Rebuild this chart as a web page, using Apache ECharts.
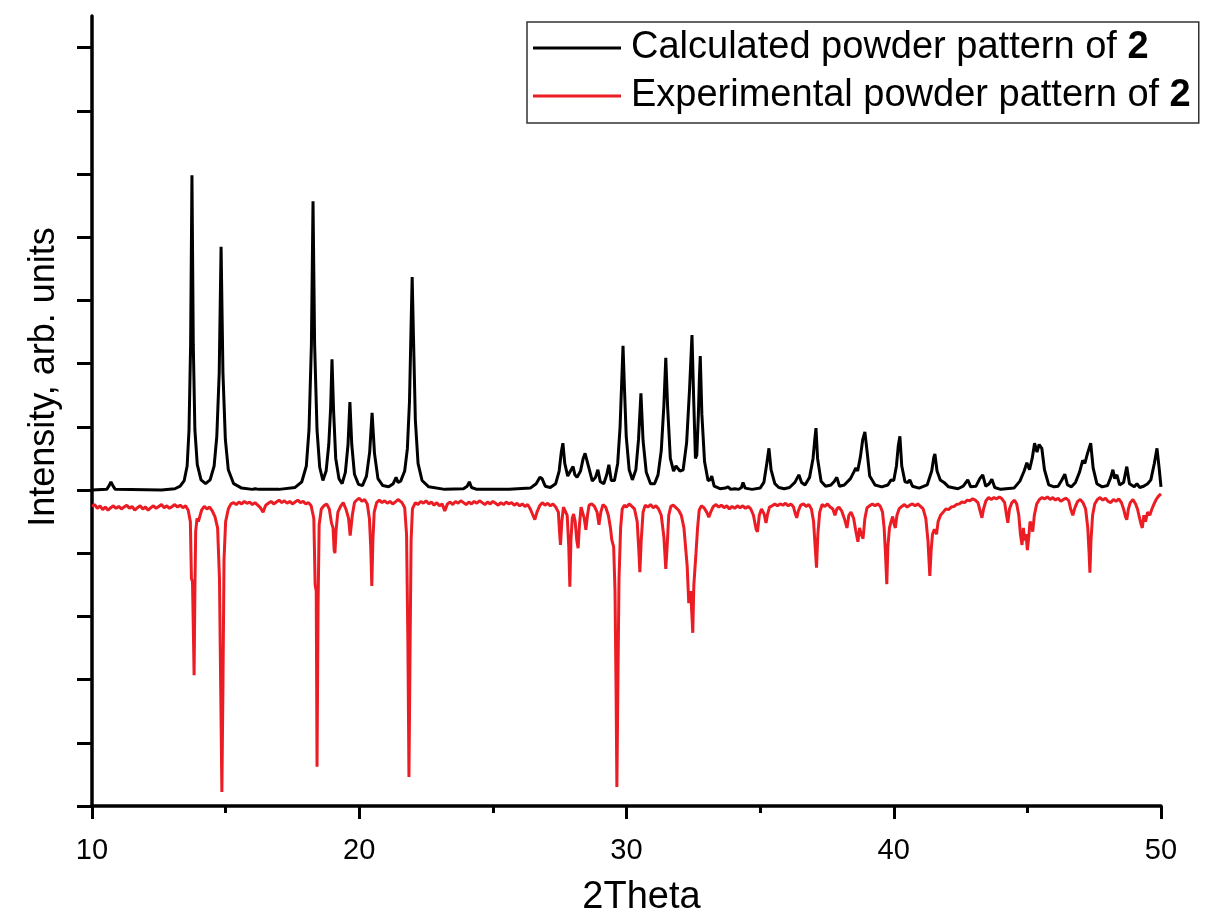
<!DOCTYPE html>
<html>
<head>
<meta charset="utf-8">
<script src="https://cdn.jsdelivr.net/npm/echarts@6/dist/echarts.min.js"></script>
<style>
html,body{margin:0;padding:0;background:#fff;}
#chart{width:1211px;height:914px;}
</style>
</head>
<body>
<div id="chart"></div>
<script>
const xTicks = [10, 20, 30, 40, 50];
const yTicks = [-5, -4, -3, -2, -1, 0, 1, 2, 3, 4, 5, 6, 7];
const seriesNames = ['Calculated powder pattern of 2', 'Experimental powder pattern of 2'];

const calculated = [
[10.0,0],[10.55,0.01],[10.63,0.06],[10.71,0.13],[10.79,0.06],[10.87,0.01],[12.6,0],[13.1,0.02],[13.3,0.06],[13.45,0.15],[13.56,0.38],[13.63,0.95],[13.69,2.3],[13.74,4.98],[13.79,2.3],[13.85,0.95],[13.94,0.4],[14.08,0.16],[14.25,0.1],[14.42,0.16],[14.57,0.38],[14.67,0.85],[14.76,1.85],[14.83,3.85],[14.9,1.85],[14.99,0.8],[15.1,0.32],[15.3,0.1],[15.6,0.03],[16.0,0.01],[16.1,0.02],[16.17,0.04],[16.25,0.01],[17.0,0.01],[17.6,0.04],[17.85,0.13],[18.02,0.38],[18.12,0.95],[18.21,2.3],[18.27,4.57],[18.33,2.3],[18.42,0.95],[18.52,0.36],[18.64,0.15],[18.76,0.3],[18.86,0.72],[18.93,1.3],[18.98,2.07],[19.04,1.25],[19.12,0.5],[19.24,0.18],[19.36,0.1],[19.48,0.28],[19.58,0.72],[19.65,1.39],[19.72,0.72],[19.82,0.25],[19.97,0.09],[20.12,0.07],[20.27,0.22],[20.39,0.6],[20.48,1.22],[20.57,0.58],[20.7,0.18],[20.88,0.07],[21.1,0.05],[21.27,0.1],[21.38,0.2],[21.45,0.12],[21.55,0.14],[21.7,0.3],[21.8,0.65],[21.88,1.4],[21.94,2.6],[21.98,3.37],[22.03,2.4],[22.1,1.1],[22.2,0.42],[22.35,0.15],[22.6,0.05],[23.2,0.01],[23.9,0.02],[24.04,0.06],[24.12,0.13],[24.2,0.04],[24.4,0.01],[25.6,0.01],[26.4,0.03],[26.62,0.1],[26.76,0.2],[26.84,0.18],[26.96,0.06],[27.15,0.04],[27.35,0.1],[27.48,0.3],[27.56,0.6],[27.62,0.74],[27.69,0.42],[27.8,0.22],[27.93,0.32],[28.0,0.37],[28.07,0.24],[28.15,0.2],[28.28,0.3],[28.38,0.5],[28.45,0.58],[28.52,0.6],[28.6,0.34],[28.72,0.14],[28.84,0.2],[28.93,0.32],[29.02,0.13],[29.15,0.1],[29.26,0.24],[29.34,0.4],[29.43,0.15],[29.55,0.15],[29.67,0.42],[29.76,1.0],[29.82,1.7],[29.87,2.28],[29.92,1.65],[29.99,0.85],[30.1,0.32],[30.22,0.16],[30.35,0.32],[30.45,0.8],[30.54,1.53],[30.62,0.78],[30.74,0.28],[30.9,0.1],[31.05,0.1],[31.18,0.24],[31.3,0.62],[31.4,1.35],[31.47,2.09],[31.54,1.3],[31.64,0.5],[31.76,0.3],[31.85,0.38],[31.92,0.41],[32.0,0.3],[32.12,0.32],[32.25,0.75],[32.36,1.6],[32.45,2.45],[32.52,1.35],[32.58,0.5],[32.63,0.55],[32.69,1.2],[32.73,1.8],[32.76,2.12],[32.82,1.2],[32.92,0.45],[33.05,0.15],[33.13,0.16],[33.19,0.22],[33.28,0.06],[33.5,0.02],[33.7,0.03],[33.8,0.05],[33.9,0.01],[34.05,0.02],[34.12,0.05],[34.2,0.01],[34.3,0.04],[34.36,0.12],[34.44,0.03],[34.7,0.01],[35.0,0.03],[35.14,0.12],[35.25,0.42],[35.33,0.66],[35.41,0.32],[35.55,0.1],[35.7,0.04],[35.9,0.02],[36.1,0.04],[36.3,0.12],[36.45,0.24],[36.55,0.12],[36.68,0.08],[36.85,0.2],[36.98,0.5],[37.05,0.82],[37.09,0.98],[37.15,0.5],[37.28,0.14],[37.45,0.06],[37.65,0.08],[37.78,0.14],[37.87,0.2],[37.97,0.06],[38.15,0.08],[38.38,0.18],[38.5,0.28],[38.58,0.35],[38.65,0.3],[38.75,0.52],[38.84,0.8],[38.92,0.92],[39.0,0.62],[39.1,0.22],[39.3,0.08],[39.55,0.05],[39.78,0.08],[39.9,0.16],[40.0,0.15],[40.1,0.38],[40.17,0.7],[40.23,0.85],[40.3,0.38],[40.42,0.13],[40.52,0.12],[40.6,0.16],[40.7,0.06],[40.95,0.03],[41.25,0.08],[41.42,0.3],[41.5,0.52],[41.54,0.57],[41.62,0.3],[41.74,0.16],[41.88,0.12],[42.05,0.05],[42.4,0.02],[42.6,0.06],[42.77,0.16],[42.88,0.05],[43.08,0.06],[43.22,0.18],[43.33,0.24],[43.44,0.06],[43.57,0.1],[43.67,0.17],[43.78,0.04],[44.0,0.01],[44.5,0.03],[44.72,0.14],[44.88,0.3],[44.98,0.43],[45.08,0.32],[45.18,0.5],[45.27,0.74],[45.36,0.6],[45.44,0.72],[45.54,0.66],[45.64,0.32],[45.8,0.08],[46.0,0.05],[46.15,0.06],[46.28,0.15],[46.4,0.25],[46.5,0.08],[46.65,0.05],[46.8,0.12],[46.95,0.28],[47.07,0.47],[47.15,0.42],[47.25,0.58],[47.37,0.74],[47.46,0.35],[47.6,0.1],[47.8,0.05],[48.0,0.07],[48.12,0.2],[48.2,0.32],[48.27,0.18],[48.35,0.24],[48.45,0.08],[48.6,0.12],[48.72,0.37],[48.82,0.1],[49.0,0.05],[49.1,0.1],[49.2,0.04],[49.35,0.06],[49.5,0.1],[49.62,0.16],[49.75,0.42],[49.85,0.66],[49.93,0.35],[50.0,0.05]
];

const experimental = [
[10.0,-0.26],[10.1,-0.23],[10.2,-0.29],[10.3,-0.25],[10.4,-0.31],[10.5,-0.27],[10.6,-0.32],[10.7,-0.28],[10.8,-0.25],[10.9,-0.29],[11.0,-0.26],[11.1,-0.3],[11.2,-0.27],[11.3,-0.24],[11.4,-0.29],[11.5,-0.26],[11.6,-0.32],[11.7,-0.28],[11.8,-0.25],[11.9,-0.3],[12.0,-0.27],[12.1,-0.32],[12.2,-0.28],[12.3,-0.25],[12.4,-0.29],[12.5,-0.26],[12.6,-0.23],[12.7,-0.28],[12.8,-0.25],[12.9,-0.29],[13.0,-0.26],[13.1,-0.23],[13.2,-0.27],[13.3,-0.24],[13.4,-0.28],[13.5,-0.25],[13.6,-0.32],[13.68,-0.5],[13.72,-1.4],[13.76,-1.45],[13.8,-2.4],[13.82,-2.93],[13.85,-1.6],[13.88,-0.65],[13.93,-0.45],[13.98,-0.5],[14.05,-0.48],[14.1,-0.32],[14.2,-0.26],[14.3,-0.3],[14.4,-0.27],[14.5,-0.33],[14.6,-0.42],[14.7,-0.6],[14.77,-1.4],[14.82,-3.3],[14.86,-4.78],[14.9,-3.1],[14.94,-1.1],[15.0,-0.5],[15.1,-0.3],[15.2,-0.22],
[15.3,-0.2],[15.4,-0.23],[15.5,-0.19],[15.6,-0.22],[15.7,-0.18],[15.8,-0.21],[15.9,-0.19],[16.0,-0.23],[16.1,-0.2],[16.2,-0.24],[16.3,-0.28],[16.4,-0.35],[16.5,-0.24],[16.6,-0.21],[16.7,-0.18],[16.8,-0.22],[16.9,-0.19],[17.0,-0.16],[17.1,-0.2],[17.2,-0.17],[17.3,-0.21],[17.4,-0.18],[17.5,-0.22],[17.6,-0.19],[17.7,-0.16],[17.8,-0.2],[17.9,-0.18],[18.0,-0.22],[18.1,-0.2],[18.2,-0.25],[18.3,-0.45],[18.35,-1.5],[18.39,-1.6],[18.42,-4.38],[18.46,-1.8],[18.5,-0.55],[18.58,-0.3],[18.68,-0.25],[18.78,-0.22],[18.88,-0.3],[18.96,-0.52],[19.02,-0.6],[19.06,-0.95],[19.09,-1.0],[19.13,-0.65],[19.2,-0.35],[19.3,-0.26],[19.4,-0.2],[19.5,-0.3],[19.6,-0.45],[19.66,-0.72],[19.69,-0.74],[19.74,-0.4],[19.82,-0.2],[19.9,-0.16],[20.0,-0.13],[20.1,-0.18],[20.2,-0.15],[20.3,-0.22],[20.38,-0.45],[20.43,-0.9],[20.47,-1.52],[20.51,-0.8],[20.56,-0.35],[20.65,-0.2],[20.75,-0.16],[20.85,-0.2],[20.95,-0.17],[21.05,-0.21],[21.15,-0.18],[21.25,-0.22],[21.35,-0.19],[21.45,-0.15],[21.52,-0.16],[21.6,-0.2],[21.7,-0.28],[21.77,-0.7],[21.82,-2.4],[21.86,-4.54],[21.9,-2.6],[21.94,-0.8],[21.99,-0.3],[22.1,-0.2],[22.2,-0.23],[22.3,-0.18],[22.4,-0.21],[22.5,-0.17],[22.6,-0.22],[22.7,-0.19],[22.8,-0.24],[22.9,-0.2],[23.0,-0.25],[23.1,-0.22],[23.2,-0.33],[23.3,-0.22],[23.4,-0.19],[23.5,-0.23],[23.6,-0.18],[23.7,-0.21],[23.8,-0.17],[23.9,-0.2],[24.0,-0.23],[24.1,-0.19],[24.2,-0.22],[24.3,-0.18],[24.4,-0.21],[24.5,-0.17],[24.6,-0.2],[24.7,-0.23],[24.8,-0.19],[24.9,-0.22],[25.0,-0.18],[25.1,-0.21],[25.2,-0.24],[25.3,-0.2],[25.4,-0.23],[25.5,-0.19],[25.6,-0.22],[25.7,-0.2],[25.8,-0.24],[25.9,-0.21],[26.0,-0.25],[26.1,-0.22],[26.2,-0.26],[26.3,-0.23],[26.4,-0.3],[26.5,-0.4],[26.57,-0.47],[26.65,-0.35],[26.75,-0.25],[26.85,-0.2],[26.95,-0.24],[27.05,-0.21],[27.15,-0.25],[27.25,-0.22],[27.35,-0.27],[27.45,-0.35],[27.5,-0.7],[27.53,-0.87],[27.58,-0.5],[27.64,-0.27],[27.7,-0.25],[27.78,-0.4],[27.84,-0.9],[27.88,-1.53],[27.92,-0.8],[27.97,-0.45],[28.02,-0.38],[28.08,-0.5],[28.14,-0.8],[28.19,-0.92],[28.24,-0.55],[28.3,-0.27],[28.36,-0.3],[28.42,-0.45],[28.48,-0.63],[28.54,-0.4],[28.6,-0.24],[28.7,-0.22],[28.8,-0.26],[28.9,-0.35],[28.97,-0.55],[29.04,-0.35],[29.12,-0.23],[29.22,-0.27],[29.32,-0.4],[29.4,-0.6],[29.45,-0.79],[29.52,-0.9],[29.57,-1.6],[29.61,-3.2],[29.64,-4.7],[29.68,-3.0],[29.72,-1.4],[29.78,-0.6],[29.84,-0.3],[29.92,-0.24],[30.0,-0.27],[30.1,-0.22],[30.2,-0.26],[30.3,-0.3],[30.4,-0.5],[30.46,-0.95],[30.5,-1.3],[30.55,-0.8],[30.62,-0.35],[30.7,-0.24],[30.8,-0.27],[30.9,-0.23],[31.0,-0.28],[31.1,-0.25],[31.2,-0.3],[31.3,-0.4],[31.4,-0.75],[31.47,-1.25],[31.52,-0.9],[31.58,-0.4],[31.66,-0.26],[31.75,-0.24],[31.85,-0.28],[31.95,-0.32],[32.05,-0.4],[32.15,-0.6],[32.22,-0.95],[32.27,-1.2],[32.33,-1.79],[32.4,-1.6],[32.45,-2.0],[32.48,-2.26],[32.52,-1.5],[32.6,-1.0],[32.66,-0.6],[32.72,-0.32],[32.8,-0.25],[32.9,-0.28],[33.0,-0.35],[33.08,-0.43],[33.15,-0.35],[33.25,-0.26],[33.35,-0.23],[33.45,-0.27],[33.55,-0.24],[33.65,-0.28],[33.75,-0.25],[33.85,-0.3],[33.95,-0.26],[34.05,-0.29],[34.15,-0.25],[34.25,-0.28],[34.35,-0.25],[34.45,-0.29],[34.55,-0.26],[34.65,-0.3],[34.75,-0.4],[34.85,-0.62],[34.9,-0.66],[34.97,-0.4],[35.05,-0.3],[35.15,-0.38],[35.22,-0.52],[35.28,-0.38],[35.35,-0.27],[35.45,-0.25],[35.55,-0.22],[35.65,-0.25],[35.75,-0.22],[35.85,-0.24],[35.95,-0.21],[36.05,-0.25],[36.15,-0.22],[36.25,-0.27],[36.32,-0.38],[36.37,-0.44],[36.43,-0.33],[36.52,-0.24],[36.62,-0.22],[36.72,-0.26],[36.82,-0.23],[36.92,-0.3],[37.0,-0.5],[37.06,-0.9],[37.11,-1.23],[37.16,-0.7],[37.23,-0.35],[37.32,-0.23],[37.42,-0.26],[37.52,-0.22],[37.62,-0.27],[37.72,-0.3],[37.8,-0.4],[37.87,-0.3],[37.95,-0.27],[38.05,-0.33],[38.15,-0.45],[38.25,-0.6],[38.32,-0.4],[38.4,-0.35],[38.5,-0.45],[38.58,-0.65],[38.66,-0.82],[38.72,-0.6],[38.78,-0.7],[38.85,-0.77],[38.92,-0.45],[39.0,-0.28],[39.1,-0.25],[39.2,-0.22],[39.3,-0.25],[39.4,-0.22],[39.5,-0.26],[39.58,-0.35],[39.64,-0.6],[39.69,-1.0],[39.74,-1.49],[39.78,-0.9],[39.84,-0.6],[39.9,-0.5],[39.96,-0.42],[40.02,-0.55],[40.06,-0.6],[40.12,-0.4],[40.2,-0.3],[40.3,-0.26],[40.4,-0.23],[40.5,-0.27],[40.6,-0.24],[40.7,-0.22],[40.8,-0.25],[40.9,-0.22],[41.0,-0.26],[41.1,-0.3],[41.2,-0.45],[41.28,-0.8],[41.35,-1.36],[41.4,-0.95],[41.45,-0.7],[41.52,-0.62],[41.6,-0.7],[41.66,-0.5],[41.75,-0.4],[41.85,-0.35],[41.95,-0.3],[42.05,-0.31],[42.15,-0.27],[42.25,-0.26],[42.35,-0.23],[42.45,-0.22],[42.55,-0.19],[42.65,-0.2],[42.75,-0.16],[42.85,-0.17],[42.95,-0.14],[43.05,-0.16],[43.15,-0.2],[43.25,-0.36],[43.3,-0.44],[43.36,-0.3],[43.45,-0.17],[43.55,-0.12],[43.65,-0.15],[43.75,-0.12],[43.85,-0.14],[43.95,-0.11],[44.05,-0.14],[44.15,-0.2],[44.22,-0.4],[44.27,-0.52],[44.33,-0.3],[44.42,-0.2],[44.52,-0.16],[44.6,-0.22],[44.68,-0.4],[44.74,-0.7],[44.8,-0.87],[44.85,-0.6],[44.9,-0.8],[44.95,-0.7],[45.0,-0.95],[45.05,-0.75],[45.1,-0.5],[45.16,-0.55],[45.2,-0.66],[45.26,-0.4],[45.35,-0.22],[45.45,-0.15],[45.55,-0.12],[45.65,-0.14],[45.75,-0.11],[45.85,-0.15],[45.95,-0.12],[46.05,-0.16],[46.15,-0.13],[46.25,-0.18],[46.35,-0.15],[46.45,-0.13],[46.55,-0.17],[46.62,-0.3],[46.7,-0.4],[46.78,-0.28],[46.88,-0.18],[46.98,-0.15],[47.08,-0.2],[47.18,-0.3],[47.26,-0.6],[47.31,-1.0],[47.34,-1.31],[47.38,-0.8],[47.44,-0.4],[47.52,-0.22],[47.62,-0.15],[47.72,-0.12],[47.82,-0.16],[47.92,-0.13],[48.02,-0.18],[48.12,-0.2],[48.22,-0.15],[48.32,-0.18],[48.42,-0.14],[48.52,-0.2],[48.6,-0.3],[48.67,-0.42],[48.72,-0.47],[48.78,-0.3],[48.85,-0.2],[48.95,-0.15],[49.05,-0.22],[49.12,-0.3],[49.2,-0.45],[49.26,-0.55],[49.3,-0.6],[49.36,-0.4],[49.42,-0.5],[49.5,-0.35],[49.58,-0.4],[49.66,-0.3],[49.74,-0.22],[49.82,-0.15],[49.9,-0.1],[50.0,-0.06]
];

const chart = echarts.init(document.getElementById('chart'), null, {renderer: 'canvas'});
const FONT = 'Liberation Sans, Arial, sans-serif';
const axisColor = '#000';

chart.setOption({
  animation: false,
  backgroundColor: '#fff',
  grid: {left: 92, right: 50, top: 16, bottom: 108, containLabel: false, outerBoundsMode: 'none'},
  legend: {
    orient: 'vertical',
    left: 527, top: 22,
    padding: [7, 8, 8, 6],
    itemGap: 10,
    itemWidth: 88, itemHeight: 3,
    borderColor: '#333', borderWidth: 1.5,
    data: seriesNames.map(function (n) { return {name: n, icon: 'rect'}; }),
    formatter: function (name) {
      const cut = name.lastIndexOf(' ');
      return '{n|' + name.slice(0, cut + 1) + '}{b|' + name.slice(cut + 1) + '}';
    },
    textStyle: {
      fontFamily: FONT, fontSize: 38, color: '#000',
      rich: {
        n: {fontFamily: FONT, fontSize: 38, color: '#000', padding: [0, 0, 0, 5]},
        b: {fontFamily: FONT, fontSize: 38, color: '#000', fontWeight: 'bold'}
      }
    }
  },
  xAxis: {
    type: 'value',
    min: xTicks[0], max: xTicks[xTicks.length - 1], interval: 10,
    name: '2Theta', nameLocation: 'middle', nameGap: 73,
    nameTextStyle: {fontFamily: FONT, fontSize: 38, color: '#000', padding: [0, 0, 0, 30]},
    axisLine: {show: true, onZero: false, lineStyle: {color: axisColor, width: 3.5}},
    axisTick: {show: true, inside: false, length: 13, lineStyle: {color: axisColor, width: 3}},
    minorTick: {show: true, splitNumber: 2, length: 7, lineStyle: {color: axisColor, width: 3}},
    axisLabel: {fontFamily: FONT, fontSize: 29, color: '#000', margin: 30},
    splitLine: {show: false}
  },
  yAxis: {
    type: 'value',
    min: -5, max: 7.5, interval: 1,
    name: 'Intensity, arb. units', nameLocation: 'middle', nameGap: 30, nameRotate: 90,
    nameTextStyle: {fontFamily: FONT, fontSize: 36, color: '#000', padding: [0, 0, 0, 68]},
    axisLine: {show: true, onZero: false, lineStyle: {color: axisColor, width: 3.5}},
    axisTick: {show: true, inside: false, length: 15, customValues: yTicks, lineStyle: {color: axisColor, width: 3}},
    axisLabel: {show: false},
    splitLine: {show: false}
  },
  series: [
    {
      name: seriesNames[0], type: 'line', data: calculated,
      symbol: 'none', showSymbol: false, smooth: false,
      lineStyle: {color: '#000', width: 3}, itemStyle: {color: '#000'},
      z: 3
    },
    {
      name: seriesNames[1], type: 'line', data: experimental,
      symbol: 'none', showSymbol: false, smooth: false,
      lineStyle: {color: '#ec1c24', width: 3}, itemStyle: {color: '#ec1c24'},
      z: 2
    }
  ]
});
</script>
</body>
</html>
